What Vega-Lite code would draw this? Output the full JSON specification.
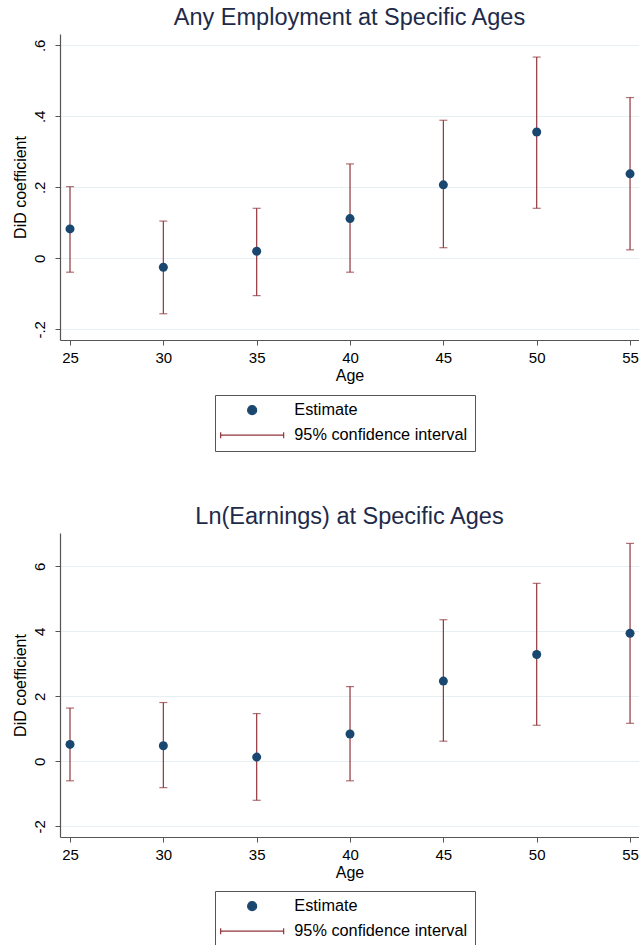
{
  "$schema": "https://vega.github.io/schema/vega-lite/v6.json",
  "background": "white",
  "padding": {"left": 12, "top": 5, "right": 0, "bottom": 0},
  "bounds": "flush",
  "spacing": 193,
  "datasets": {
    "employment": [
      {"age": 25, "est": 0.083, "lo": -0.039, "hi": 0.202},
      {"age": 30, "est": -0.025, "lo": -0.156, "hi": 0.105},
      {"age": 35, "est": 0.020, "lo": -0.105, "hi": 0.141},
      {"age": 40, "est": 0.112, "lo": -0.039, "hi": 0.266},
      {"age": 45, "est": 0.207, "lo": 0.030, "hi": 0.389},
      {"age": 50, "est": 0.356, "lo": 0.141, "hi": 0.567},
      {"age": 55, "est": 0.238, "lo": 0.024, "hi": 0.453}
    ],
    "earnings": [
      {"age": 25, "est": 0.52, "lo": -0.60, "hi": 1.64},
      {"age": 30, "est": 0.48, "lo": -0.81, "hi": 1.81},
      {"age": 35, "est": 0.13, "lo": -1.20, "hi": 1.47},
      {"age": 40, "est": 0.84, "lo": -0.60, "hi": 2.30},
      {"age": 45, "est": 2.47, "lo": 0.62, "hi": 4.36},
      {"age": 50, "est": 3.29, "lo": 1.11, "hi": 5.48},
      {"age": 55, "est": 3.94, "lo": 1.17, "hi": 6.71}
    ]
  },
  "config": {
    "font": "Liberation Sans",
    "view": {"stroke": null},
    "title": {"fontSize": 23.5, "fontWeight": "normal", "color": "#1e2a4a", "baseline": "alphabetic", "offset": 5, "anchor": "middle"},
    "axis": {
      "domainColor": "#555555",
      "domainWidth": 1.2,
      "tickColor": "#555555",
      "tickSize": 5,
      "labelColor": "#000000",
      "titleColor": "#000000",
      "labelFontSize": 15,
      "titleFontSize": 16,
      "titleFontWeight": "normal",
      "gridColor": "#e6eff1",
      "gridWidth": 1
    },
    "axisX": {"grid": false, "labelPadding": 5, "minExtent": 24, "maxExtent": 24, "titlePadding": 3},
    "axisY": {"labelAngle": 270, "labelAlign": "center", "labelBaseline": "alphabetic", "labelPadding": 11, "minExtent": 28, "maxExtent": 28, "titlePadding": 4, "tickCount": 5}
  },
  "resolve": {
    "scale": {"x": "independent", "y": "independent", "color": "independent", "shape": "independent"},
    "legend": {"color": "independent", "shape": "independent"}
  },
  "vconcat": [
    {
      "title": {"text": "Any Employment at Specific Ages"},
      "width": 579,
      "height": 306,
      "data": {"name": "employment"},
      "layer": [
        {
          "mark": {"type": "rule", "strokeWidth": 1.2},
          "encoding": {
            "x": {"field": "age", "type": "quantitative", "scale": {"domain": [24.464, 55.48], "nice": false, "zero": false}, "axis": {"values": [25, 30, 35, 40, 45, 50, 55], "title": "Age"}},
            "y": {"field": "lo", "type": "quantitative", "scale": {"domain": [-0.230, 0.632], "nice": false, "zero": false}, "axis": {"values": [-0.2, 0, 0.2, 0.4, 0.6], "title": "DiD coefficient", "grid": true, "labelExpr": "datum.value == 0 ? '0' : (datum.value < 0 ? '-' : '') + replace(format(abs(datum.value), '.1f'), '0.', '.')"}},
            "y2": {"field": "hi"},
            "color": {"datum": "95% confidence interval", "scale": {"domain": ["Estimate", "95% confidence interval"], "range": ["#1a476f", "#90353b"]},
              "legend": {"title": null, "orient": "none", "legendX": 155, "legendY": 361, "direction": "vertical", "padding": 7, "strokeColor": "#555555", "fillColor": "white", "symbolSize": 81, "symbolOffset": 22, "labelOffset": 34, "labelLimit": 400, "labelFontSize": 16.3, "labelColor": "#000000", "rowPadding": 8, "symbolStrokeWidth": 1.2,
                "encode": {"symbols": {"update": {"fill": {"signal": "datum.value === 'Estimate' ? '#1a476f' : 'transparent'"}, "stroke": {"signal": "datum.value === 'Estimate' ? 'transparent' : '#90353b'"}, "opacity": {"value": 1}}}, "labels": {"update": {"text": {"signal": "datum.label + '      '"}}}}}}
          }
        },
        {
          "mark": {"type": "tick", "orient": "horizontal", "size": 8, "thickness": 1.2},
          "encoding": {
            "x": {"field": "age", "type": "quantitative"},
            "y": {"field": "lo", "type": "quantitative"},
            "color": {"datum": "95% confidence interval"}
          }
        },
        {
          "mark": {"type": "tick", "orient": "horizontal", "size": 8, "thickness": 1.2},
          "encoding": {
            "x": {"field": "age", "type": "quantitative"},
            "y": {"field": "hi", "type": "quantitative"},
            "color": {"datum": "95% confidence interval"}
          }
        },
        {
          "mark": {"type": "point", "filled": true, "size": 81, "opacity": 1},
          "encoding": {
            "x": {"field": "age", "type": "quantitative"},
            "y": {"field": "est", "type": "quantitative"},
            "color": {"datum": "Estimate"},
            "shape": {"datum": "Estimate", "scale": {"domain": ["Estimate", "95% confidence interval"], "range": ["circle", "M-7,-0.67V0.67M-7,0H7M7,-0.67V0.67"]},
              "legend": {"title": null, "orient": "none", "legendX": 155, "legendY": 361, "direction": "vertical", "padding": 7, "strokeColor": "#555555", "fillColor": "white", "symbolSize": 81, "symbolOffset": 22, "labelOffset": 34, "labelLimit": 400, "labelFontSize": 16.3, "labelColor": "#000000", "rowPadding": 8, "symbolStrokeWidth": 1.2,
                "encode": {"symbols": {"update": {"fill": {"signal": "datum.value === 'Estimate' ? '#1a476f' : 'transparent'"}, "stroke": {"signal": "datum.value === 'Estimate' ? 'transparent' : '#90353b'"}, "opacity": {"value": 1}}}, "labels": {"update": {"text": {"signal": "datum.label + '      '"}}}}}}
          }
        }
      ]
    },
    {
      "title": {"text": "Ln(Earnings) at Specific Ages"},
      "width": 579,
      "height": 304,
      "data": {"name": "earnings"},
      "layer": [
        {
          "mark": {"type": "rule", "strokeWidth": 1.2},
          "encoding": {
            "x": {"field": "age", "type": "quantitative", "scale": {"domain": [24.464, 55.48], "nice": false, "zero": false}, "axis": {"values": [25, 30, 35, 40, 45, 50, 55], "title": "Age"}},
            "y": {"field": "lo", "type": "quantitative", "scale": {"domain": [-2.33, 7.03], "nice": false, "zero": false}, "axis": {"values": [-2, 0, 2, 4, 6], "title": "DiD coefficient", "grid": true, "labelExpr": "(datum.value < 0 ? '-' : '') + format(abs(datum.value), 'd')"}},
            "y2": {"field": "hi"},
            "color": {"datum": "95% confidence interval", "scale": {"domain": ["Estimate", "95% confidence interval"], "range": ["#1a476f", "#90353b"]},
              "legend": {"title": null, "orient": "none", "legendX": 155, "legendY": 358, "direction": "vertical", "padding": 7, "strokeColor": "#555555", "fillColor": "white", "symbolSize": 81, "symbolOffset": 22, "labelOffset": 34, "labelLimit": 400, "labelFontSize": 16.3, "labelColor": "#000000", "rowPadding": 8, "symbolStrokeWidth": 1.2,
                "encode": {"symbols": {"update": {"fill": {"signal": "datum.value === 'Estimate' ? '#1a476f' : 'transparent'"}, "stroke": {"signal": "datum.value === 'Estimate' ? 'transparent' : '#90353b'"}, "opacity": {"value": 1}}}, "labels": {"update": {"text": {"signal": "datum.label + '      '"}}}}}}
          }
        },
        {
          "mark": {"type": "tick", "orient": "horizontal", "size": 8, "thickness": 1.2},
          "encoding": {
            "x": {"field": "age", "type": "quantitative"},
            "y": {"field": "lo", "type": "quantitative"},
            "color": {"datum": "95% confidence interval"}
          }
        },
        {
          "mark": {"type": "tick", "orient": "horizontal", "size": 8, "thickness": 1.2},
          "encoding": {
            "x": {"field": "age", "type": "quantitative"},
            "y": {"field": "hi", "type": "quantitative"},
            "color": {"datum": "95% confidence interval"}
          }
        },
        {
          "mark": {"type": "point", "filled": true, "size": 81, "opacity": 1},
          "encoding": {
            "x": {"field": "age", "type": "quantitative"},
            "y": {"field": "est", "type": "quantitative"},
            "color": {"datum": "Estimate"},
            "shape": {"datum": "Estimate", "scale": {"domain": ["Estimate", "95% confidence interval"], "range": ["circle", "M-7,-0.67V0.67M-7,0H7M7,-0.67V0.67"]},
              "legend": {"title": null, "orient": "none", "legendX": 155, "legendY": 358, "direction": "vertical", "padding": 7, "strokeColor": "#555555", "fillColor": "white", "symbolSize": 81, "symbolOffset": 22, "labelOffset": 34, "labelLimit": 400, "labelFontSize": 16.3, "labelColor": "#000000", "rowPadding": 8, "symbolStrokeWidth": 1.2,
                "encode": {"symbols": {"update": {"fill": {"signal": "datum.value === 'Estimate' ? '#1a476f' : 'transparent'"}, "stroke": {"signal": "datum.value === 'Estimate' ? 'transparent' : '#90353b'"}, "opacity": {"value": 1}}}, "labels": {"update": {"text": {"signal": "datum.label + '      '"}}}}}}
          }
        }
      ]
    }
  ]
}
